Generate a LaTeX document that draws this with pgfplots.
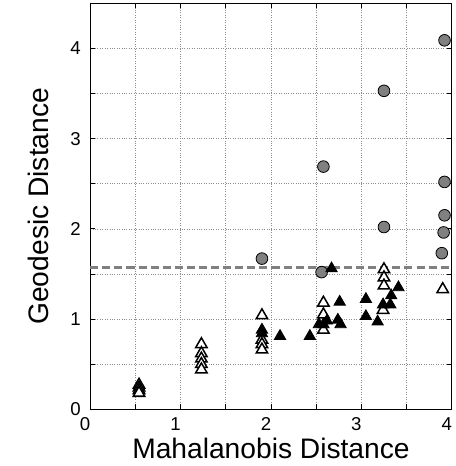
\documentclass[border={25pt 4pt 0pt 0pt}]{standalone}
\usepackage{fontspec}
\setmainfont{Liberation Sans}
\usepackage{pgfplots}
\pgfplotsset{compat=1.18}
\definecolor{circgray}{RGB}{128,128,128}
\definecolor{dashgray}{RGB}{128,128,128}

\begin{document}
\begin{tikzpicture}
\begin{axis}[
    scale only axis,
    width=359pt,
    height=403pt,
    xmin=0, xmax=4,
    ymin=0, ymax=4.5,
    xtick={0,0.5,...,4},
    xticklabels={0,,1,,2,,3,,4},
    ytick={0,0.5,...,4.5},
    yticklabels={0,,1,,2,,3,,4,},
    /pgf/number format/assume math mode=true,
    tick label style={font=\fontsize{18.5}{22}\selectfont},
    xticklabel style={yshift=-5pt, xshift=-5pt},
    yticklabel style={xshift=-6pt},
    label style={font=\fontsize{28}{33}\selectfont},
    xlabel={Mahalanobis Distance},
    ylabel={Geodesic Distance},
    xlabel style={yshift=0pt},
    ylabel style={yshift=14pt},
    tick align=inside,
    major tick length=5pt,
    axis line style={black, line width=1.2pt},
    tick style={black, line width=0.8pt},
    grid=major,
    grid style={black!45, dotted, line width=0.6pt},
    clip=false,
]
% pi/2 threshold
\addplot[dashgray, line width=3pt, dash pattern=on 8pt off 4pt, forget plot] coordinates {(0,1.5708) (4,1.5708)};

% gray circles
\addplot[only marks, mark=*, mark size=5.8pt, mark options={fill=circgray, draw=black, line width=0.8pt}] coordinates {
(1.90,1.67) (2.56,1.52) (2.58,2.69) (3.25,3.53) (3.25,2.02)
(3.92,4.09) (3.92,2.52) (3.92,2.15) (3.91,1.96) (3.89,1.73)
};

% open triangles
\addplot[only marks, mark=triangle*, mark size=6.5pt, mark options={fill=white, draw=black, line width=1.5pt}] coordinates {
(0.54,0.27) (0.54,0.24) (0.54,0.21) (0.54,0.18)
(1.23,0.72) (1.23,0.62) (1.23,0.56) (1.23,0.50) (1.23,0.44)
(1.90,1.04) (1.90,0.77) (1.90,0.72) (1.90,0.66)
(2.58,1.18) (2.58,1.05) (2.58,0.88)
(3.25,1.55) (3.25,1.46) (3.25,1.37) (3.24,1.10)
(3.90,1.33)
};

% filled triangles
\addplot[only marks, mark=triangle*, mark size=6.5pt, mark options={fill=black, draw=black, line width=0.8pt}] coordinates {
(1.90,0.88) (1.90,0.84) (2.10,0.81) (2.43,0.81) (2.53,0.94)
(2.58,0.94) (2.62,0.98) (2.67,1.56) (2.76,1.19) (2.74,0.99)
(2.77,0.94) (3.05,1.22) (3.05,1.03) (3.18,0.97) (3.24,1.16)
(3.32,1.16) (3.33,1.26) (3.41,1.35)
};
\end{axis}
\end{tikzpicture}
\end{document}
